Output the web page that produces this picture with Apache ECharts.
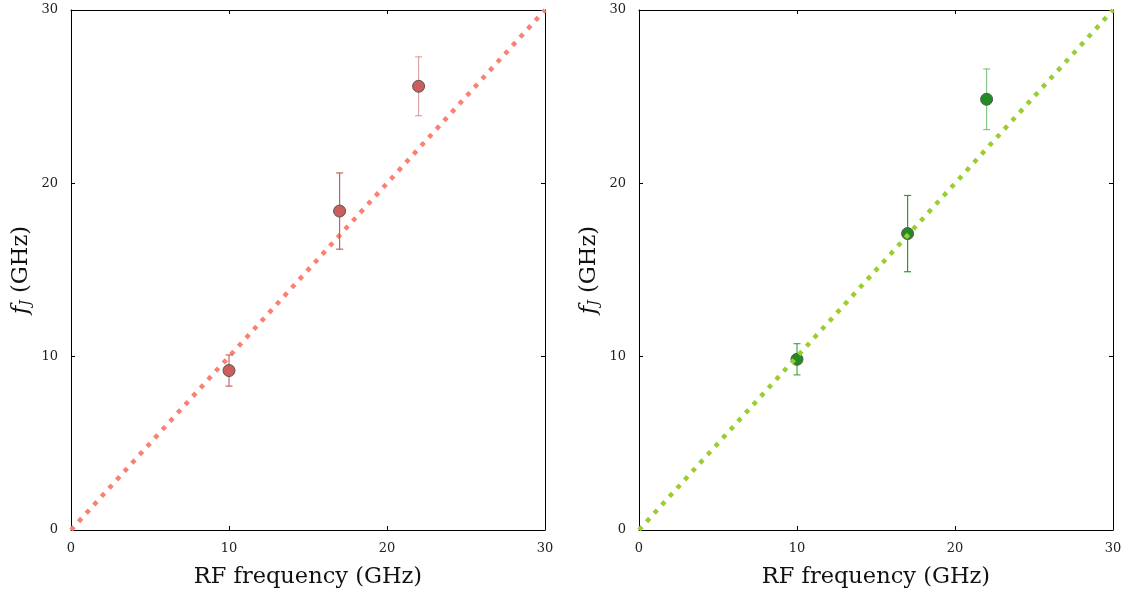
<!DOCTYPE html>
<html><head><meta charset="utf-8">
<script src="https://cdn.jsdelivr.net/npm/echarts@6/dist/echarts.min.js"></script>
<style>html,body{margin:0;padding:0;background:#fff}#c{width:1137px;height:594px}</style>
</head><body><div id="c"></div>
<script>
const rfFreq = [10, 17, 22];
const leftFJ = [9.2, 18.4, 25.6];
const leftErr = [0.9, 2.2, 1.7];
const rightFJ = [9.85, 17.1, 24.85];
const rightErr = [0.9, 2.2, 1.75];
const refLine = [[0, 0], [30, 30]];
const axisMin = 0, axisMax = 30, axisStep = 10;
const xTitle = 'RF frequency (GHz)';

const serif = 'DejaVu Serif';
const chart = echarts.init(document.getElementById('c'));

function errSeries(idx, xs, ys, es, color, opac) {
  return {
    type: 'custom', xAxisIndex: idx * 2, yAxisIndex: idx * 2, z: 3,
    data: xs.map((x, i) => [x, ys[i] - es[i], ys[i] + es[i], i]),
    renderItem: function (params, api) {
      const lo = api.coord([api.value(0), api.value(1)]);
      const hi = api.coord([api.value(0), api.value(2)]);
      const o = opac[api.value(3)];
      const st = { stroke: color, lineWidth: 1.2, opacity: o };
      return { type: 'group', children: [
        { type: 'line', shape: { x1: lo[0], y1: lo[1], x2: hi[0], y2: hi[1] }, style: st },
        { type: 'line', shape: { x1: lo[0] - 3.5, y1: lo[1], x2: lo[0] + 3.5, y2: lo[1] }, style: st },
        { type: 'line', shape: { x1: hi[0] - 3.5, y1: hi[1], x2: hi[0] + 3.5, y2: hi[1] }, style: st }
      ]};
    }
  };
}

function axes(gi) {
  const common = { type: 'value', min: axisMin, max: axisMax, interval: axisStep, gridIndex: gi,
    splitLine: { show: false },
    axisLine: { show: true, onZero: false, lineStyle: { color: '#000', width: 1 } },
    axisTick: { show: true, inside: true, length: 4, lineStyle: { color: '#000' } } };
  const xs = [
    Object.assign({}, common, { position: 'bottom',
      axisLabel: { fontFamily: serif, fontSize: 13, color: '#222', margin: 12 },
      name: xTitle, nameLocation: 'middle', nameGap: 36,
      nameTextStyle: { fontFamily: serif, fontSize: 22.5, color: '#111' } }),
    Object.assign({}, common, { position: 'top', axisLabel: { show: false } })
  ];
  const ys = [
    Object.assign({}, common, { position: 'left',
      axisLabel: { fontFamily: serif, fontSize: 13, color: '#222', margin: 13 },
      name: '{f|f}{j|J}{t| (GHz)}', nameLocation: 'middle', nameGap: 38, nameRotate: 90,
      nameTextStyle: { fontFamily: serif, fontSize: 22.5, color: '#111',
        rich: {
          f: { fontFamily: serif, fontStyle: 'italic', fontSize: 22.5, color: '#111' },
          j: { fontFamily: serif, fontStyle: 'italic', fontSize: 14, color: '#111', verticalAlign: 'bottom', padding: [9, 0, 0, 0] },
          t: { fontFamily: serif, fontSize: 22.5, color: '#111' }
        } } }),
    Object.assign({}, common, { position: 'right', axisLabel: { show: false } })
  ];
  return { xs, ys };
}
const a0 = axes(0), a1 = axes(1);

chart.setOption({
  animation: false,
  grid: [
    { left: 71, top: 10, width: 474, height: 521 },
    { left: 639, top: 10, width: 474, height: 521 }
  ],
  xAxis: [...a0.xs, ...a1.xs],
  yAxis: [...a0.ys, ...a1.ys],
  series: [
    { type: 'line', xAxisIndex: 0, yAxisIndex: 0, data: refLine, symbol: 'none', z: 2,
      lineStyle: { color: '#fa8072', width: 4.5, type: [4.5, 6.8] } },
    errSeries(0, rfFreq, leftFJ, leftErr, '#c0504d', [0.85, 0.9, 0.5]),
    { type: 'scatter', xAxisIndex: 0, yAxisIndex: 0, z: 4, symbol: 'circle', symbolSize: 12,
      data: rfFreq.map((x, i) => [x, leftFJ[i]]),
      itemStyle: { color: '#cd5c5c', borderColor: '#555', borderWidth: 1, opacity: 1 } },
    { type: 'line', xAxisIndex: 2, yAxisIndex: 2, data: refLine, symbol: 'none', z: 5,
      lineStyle: { color: '#9acd32', width: 4.5, type: [4.5, 6.8] } },
    errSeries(1, rfFreq, rightFJ, rightErr, '#2a9a2a', [0.85, 1, 0.55]),
    { type: 'scatter', xAxisIndex: 2, yAxisIndex: 2, z: 4, symbol: 'circle', symbolSize: 12,
      data: rfFreq.map((x, i) => [x, rightFJ[i]]),
      itemStyle: { color: '#228b22', borderColor: '#555', borderWidth: 1, opacity: 1 } }
  ]
});
</script></body></html>
